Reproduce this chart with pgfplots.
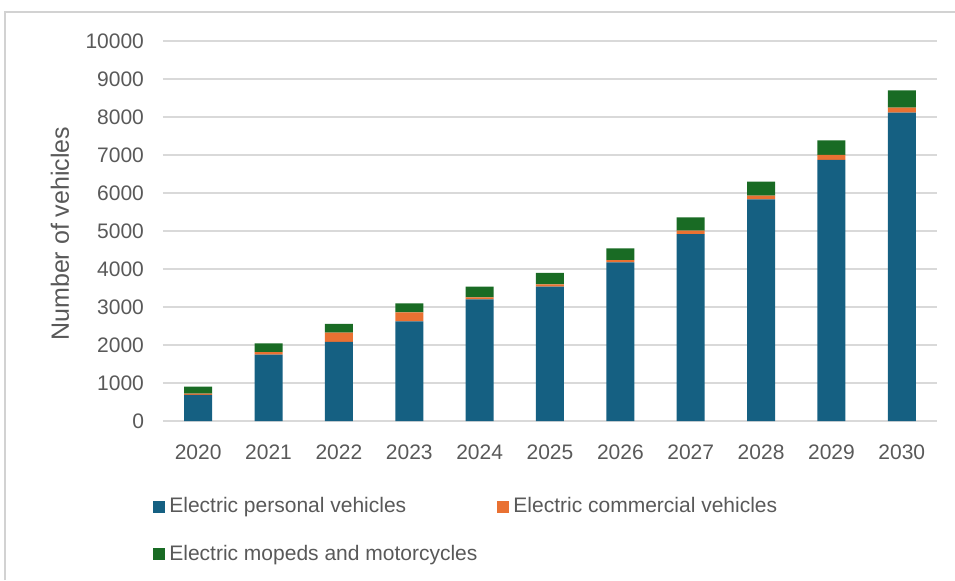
\documentclass[border=0pt]{standalone}
\usepackage{fontspec}
\setmainfont{Liberation Sans}
\usepackage{pgfplots}
\pgfplotsset{compat=1.18}
\definecolor{evblue}{HTML}{156082}
\definecolor{evorange}{HTML}{E97132}
\definecolor{evgreen}{HTML}{196B24}
\definecolor{txtgray}{HTML}{595959}
\definecolor{gridgray}{HTML}{D9D9D9}

\begin{document}
\begin{tikzpicture}
% 1 px of the reference = 0.5pt
\useasboundingbox (-81.5pt,-79.5pt) rectangle (396pt,210.5pt);
\draw[gray!35, line width=0.8pt] (-79pt,-79.5pt) -- (-79pt,204.5pt) -- (396pt,204.5pt);
\begin{axis}[
    ybar stacked,
    at={(0pt,0pt)}, anchor=south west,
    scale only axis,
    width=387pt, height=190pt,
    bar width=14pt,
    xmin=-0.5, xmax=10.5,
    ymin=0, ymax=10000,
    xtick=data,
    xticklabels={2020,2021,2022,2023,2024,2025,2026,2027,2028,2029,2030},
    ytick={0,1000,...,10000},
    scaled y ticks=false,
    /pgf/number format/1000 sep={},
    /pgf/number format/assume math mode=true,
    axis line style={draw=none},
    tick style={draw=none},
    ymajorgrids=true,
    grid style={gridgray, line width=0.75pt},
    tick label style={font=\fontsize{10.5}{12}\selectfont, text=txtgray},
    yticklabel style={xshift=-6pt},
    xticklabel style={yshift=-8.5pt},
    ylabel={Number of vehicles},
    every axis y label/.style={at={(axis description cs:-0.133,0.493)}, rotate=90, anchor=center,
        font=\fontsize{12.5}{14}\selectfont, text=txtgray},
    legend columns=2,
    legend cell align=left,
    legend style={at={(axis description cs:-0.013,-0.19)}, anchor=north west,
        draw=none, inner sep=0pt, font=\fontsize{10.5}{12}\selectfont, text=txtgray,
        row sep=10.5pt, column sep=0pt,
        /tikz/every odd column/.append style={column sep=0pt},
        /tikz/every even column/.append style={column sep=8pt}},
    legend image code/.code={\fill[#1] (0pt,-3pt) rectangle (6pt,3pt);},
    every axis plot/.append style={draw=none},
]
\addplot[fill=evblue] coordinates {(0,690) (1,1745) (2,2080) (3,2620) (4,3200) (5,3535) (6,4175) (7,4915) (8,5835) (9,6875) (10,8115)};
\addplot[fill=evorange] coordinates {(0,30) (1,70) (2,245) (3,240) (4,55) (5,60) (6,60) (7,95) (8,95) (9,130) (10,130)};
\addplot[fill=evgreen] coordinates {(0,185) (1,230) (2,230) (3,235) (4,280) (5,305) (6,310) (7,350) (8,370) (9,380) (10,455)};
\legend{Electric personal vehicles, Electric commercial vehicles, Electric mopeds and motorcycles}
\end{axis}
\end{tikzpicture}
\end{document}
